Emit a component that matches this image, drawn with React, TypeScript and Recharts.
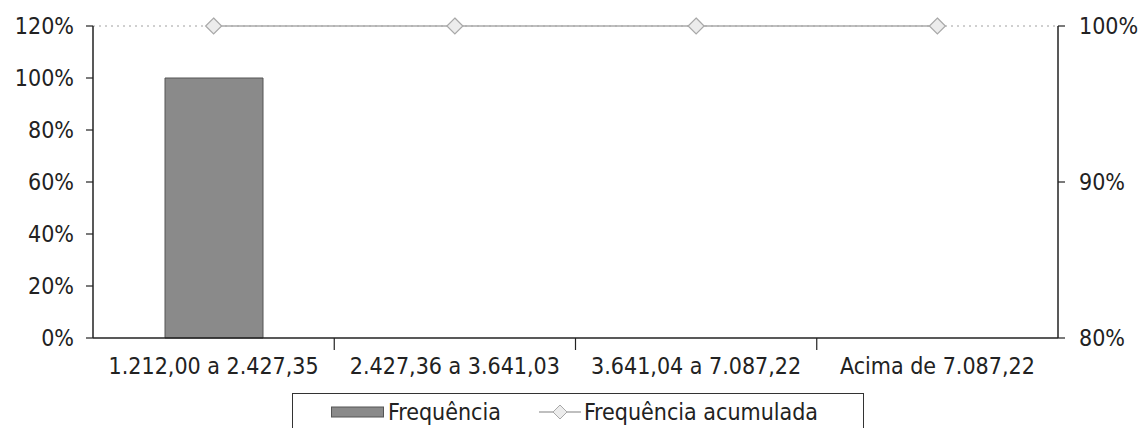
import React from "react";
import {
  ComposedChart,
  Bar,
  Line,
  XAxis,
  YAxis,
  ReferenceLine,
} from "recharts";

// faixas de valores e frequências
const categories = [
  "1.212,00 a 2.427,35",
  "2.427,36 a 3.641,03",
  "3.641,04 a 7.087,22",
  "Acima de 7.087,22",
];
const frequencia = [1, 0, 0, 0];
const frequenciaAcumulada = [1, 1, 1, 1];

const leftTicks = [0, 0.2, 0.4, 0.6, 0.8, 1.0, 1.2];
const rightTicks = [0.8, 0.9, 1.0];

const W = 1145;
const H = 428;
const FONT = "'DejaVu Sans Condensed', 'DejaVu Sans', sans-serif";
const PLOT_LEFT = 93;
const PLOT_RIGHT = 87;

const data = categories.map((c, i) => ({
  name: c,
  freq: frequencia[i],
  acum: frequenciaAcumulada[i],
}));

const pct = (v: number) => `${Math.round(v * 100)}%`;

// tick de categoria: texto no centro + marca na divisa entre faixas
function CategoryTick(props: any) {
  const { x, y, payload, index } = props;
  const half = (W - PLOT_LEFT - PLOT_RIGHT) / categories.length / 2;
  return (
    <g>
      {index > 0 && (
        <line x1={x - half} x2={x - half} y1={y - 8} y2={y + 4} stroke="#222" strokeWidth={1.2} />
      )}
      <text x={x} y={y + 28} textAnchor="middle" fill="#222" fontSize={23} fontFamily={FONT}>
        {payload.value}
      </text>
    </g>
  );
}

function Diamond(props: any) {
  const { cx, cy } = props;
  if (cx == null || cy == null) return null;
  const r = 8;
  return (
    <path
      d={`M${cx},${cy - r} L${cx + r},${cy} L${cx},${cy + r} L${cx - r},${cy} Z`}
      fill="#ececec"
      stroke="#a8a8a8"
      strokeWidth={1.2}
    />
  );
}

function LegendBox() {
  return (
    <div
      style={{
        position: "absolute",
        left: 292,
        top: 393,
        width: 572,
        height: 38,
        border: "1.5px solid #333",
        boxSizing: "border-box",
        display: "flex",
        alignItems: "center",
        fontFamily: FONT,
        fontSize: 23,
        lineHeight: "26px",
        color: "#222",
        background: "#fff",
      }}
    >
      <svg width={54} height={12} style={{ marginLeft: 38 }}>
        <rect x={0.5} y={1} width={52} height={10} fill="#8a8a8a" stroke="#555" />
      </svg>
      <span style={{ marginLeft: 3 }}>Frequência</span>
      <svg width={42} height={18} style={{ marginLeft: 38 }}>
        <line x1={0} x2={42} y1={9} y2={9} stroke="#aaa" strokeWidth={1.5} />
        <path d="M21,2 L28,9 L21,16 L14,9 Z" fill="#ececec" stroke="#a8a8a8" />
      </svg>
      <span style={{ marginLeft: 3 }}>Frequência acumulada</span>
    </div>
  );
}

export default function App() {
  return (
    <div style={{ position: "absolute", left: 0, top: 0, width: W, height: H, background: "#fff", overflow: "hidden" }}>
      <ComposedChart
        width={W}
        height={H}
        data={data}
        margin={{ top: 26, right: 0, bottom: 0, left: 0 }}
      >
        <XAxis
          dataKey="name"
          xAxisId="x"
          height={90}
          interval={0}
          axisLine={{ stroke: "#222", strokeWidth: 1.5 }}
          tickLine={false}
          tick={<CategoryTick />}
        />
        <YAxis
          yAxisId="left"
          width={PLOT_LEFT}
          domain={[0, 1.2]}
          ticks={leftTicks}
          tickFormatter={pct}
          axisLine={{ stroke: "#222", strokeWidth: 1.5 }}
          tickLine={{ stroke: "#222", strokeWidth: 1.2 }}
          tickSize={7}
          tickMargin={12}
          tick={{ fill: "#222", fontSize: 23, fontFamily: FONT }}
        />
        <YAxis
          yAxisId="right"
          orientation="right"
          width={PLOT_RIGHT}
          domain={[0.8, 1.0]}
          ticks={rightTicks}
          tickFormatter={pct}
          axisLine={{ stroke: "#222", strokeWidth: 1.5 }}
          tickLine={{ stroke: "#222", strokeWidth: 1.2 }}
          tickSize={7}
          tickMargin={14}
          tick={{ fill: "#222", fontSize: 23, fontFamily: FONT }}
        />
        <ReferenceLine
          yAxisId="left"
          xAxisId="x"
          y={1.2}
          stroke="#a0a0a0"
          strokeDasharray="2 4"
        />
        <Bar
          dataKey="freq"
          name="Frequência"
          xAxisId="x"
          yAxisId="left"
          barSize={98}
          fill="#8a8a8a"
          stroke="#555"
          strokeWidth={1}
          isAnimationActive={false}
        />
        <Line
          dataKey="acum"
          name="Frequência acumulada"
          xAxisId="x"
          yAxisId="right"
          stroke="#aaa"
          strokeWidth={1.5}
          dot={<Diamond />}
          activeDot={false}
          isAnimationActive={false}
        />
      </ComposedChart>
      <LegendBox />
    </div>
  );
}
